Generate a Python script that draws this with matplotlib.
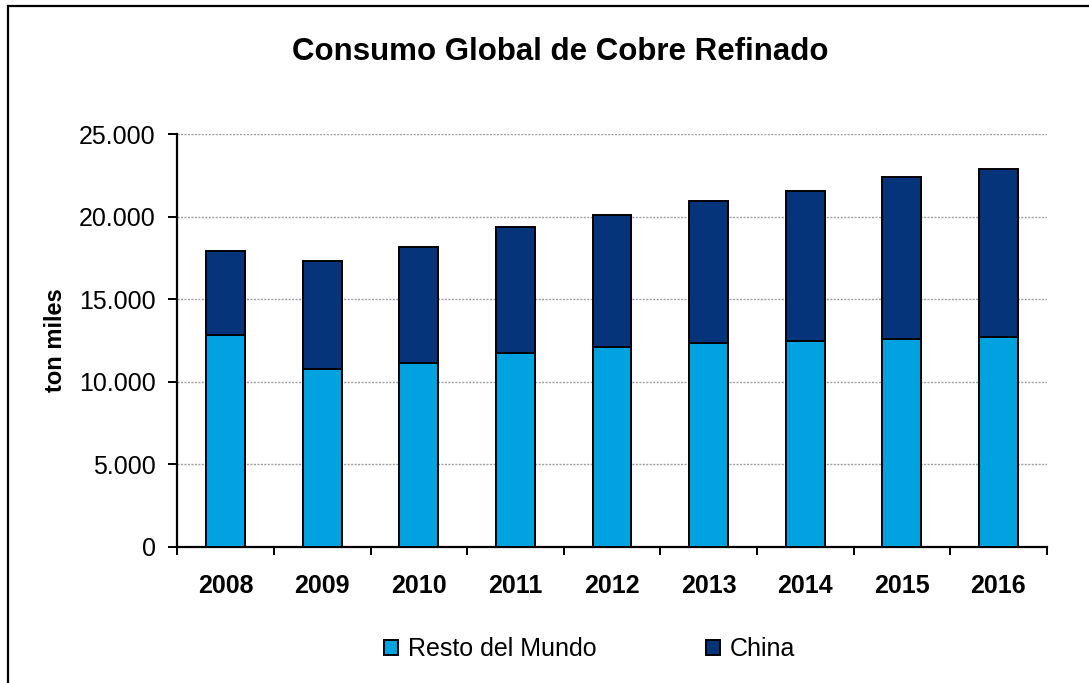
import numpy as np
import matplotlib
matplotlib.use("Agg")
from matplotlib import pyplot as plt
from matplotlib.patches import Rectangle
from matplotlib.ticker import FuncFormatter

plt.rcParams['font.family'] = ['Liberation Sans', 'DejaVu Sans']

# datos (miles de toneladas)
years = ['2008', '2009', '2010', '2011', '2012', '2013', '2014', '2015', '2016']
resto_mundo = [12830, 10790, 11140, 11760, 12090, 12350, 12470, 12590, 12710]
china = [5100, 6530, 7030, 7620, 8000, 8610, 9090, 9820, 10190]

c_resto = '#00A3DF'
c_china = '#06347A'

fig = plt.figure(figsize=(10.89, 6.83), dpi=100)
W, H = 1089, 683
ax = fig.add_axes([177.3 / W, 1 - 546.7 / H, (1046.7 - 177.3) / W, (546.7 - 134.3) / H])

x = np.arange(len(years))
ax.bar(x, resto_mundo, width=0.40, color=c_resto, edgecolor='black', linewidth=1.4,
       label='Resto del Mundo', zorder=3)
ax.bar(x, china, width=0.40, bottom=resto_mundo, color=c_china, edgecolor='black',
       linewidth=1.4, label='China', zorder=3)

ax.set_xlim(-0.5, len(years) - 0.5)
ax.set_ylim(0, 25000)
ax.set_yticks(np.arange(0, 25001, 5000))
ax.yaxis.set_major_formatter(FuncFormatter(lambda v, p: f"{int(v):,}".replace(',', '.')))
ax.grid(axis='y', color='#A0A0A0', linestyle=(0, (1.5, 1.0)), linewidth=1.0, zorder=0)
ax.set_axisbelow(True)

# etiquetas en el centro, marcas entre categorias
ax.set_xticks(x)
ax.set_xticklabels(years, fontsize=18, fontweight='bold')
ax.set_xticks(np.arange(-0.5, len(years), 1.0), minor=True)
ax.tick_params(axis='x', which='major', length=0, pad=20)
ax.tick_params(axis='x', which='minor', length=6, width=1.4, direction='out')
ax.tick_params(axis='y', length=6.5, width=1.4, direction='out', labelsize=18, pad=9)

for s in ['top', 'right']:
    ax.spines[s].set_visible(False)
for s in ['left', 'bottom']:
    ax.spines[s].set_linewidth(1.6)

ax.set_ylabel('ton miles', fontsize=17, fontweight='bold')
ax.yaxis.set_label_coords(-0.1269, 0.5)

fig.text(560 / W, 1 - 52 / H, 'Consumo Global de Cobre Refinado', ha='center', va='center',
         fontsize=22.5, fontweight='bold')

leg = fig.legend(loc='center', bbox_to_anchor=(589.5 / W, 1 - 649 / H), ncol=2,
                 frameon=False, fontsize=18, handlelength=0.56, handleheight=0.56,
                 handletextpad=0.4, columnspacing=4.36)

# marco de la figura
fig.patches.append(Rectangle((8 / W, -0.05), 1.1, (1 - 6 / H) + 0.05,
                             transform=fig.transFigure, fill=False, edgecolor='black',
                             linewidth=1.6))

fig.savefig('out.png', dpi=100)
